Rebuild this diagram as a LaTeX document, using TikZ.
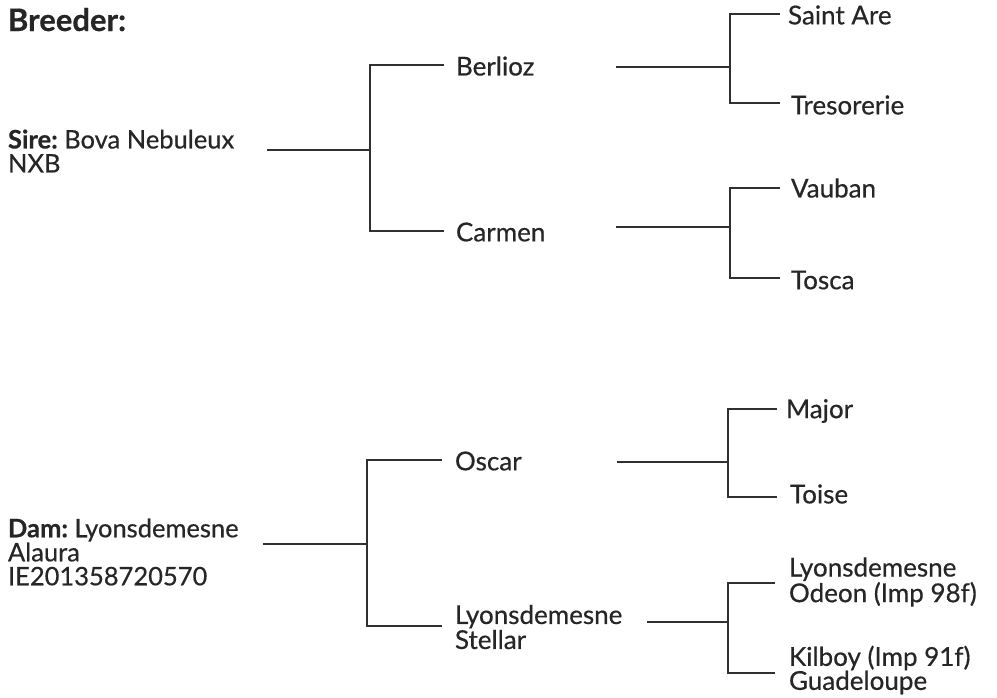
\documentclass[tikz,border=0pt]{standalone}
\usepackage{fontspec}
\setmainfont{Lato}[FakeBold=0.5]
\frenchspacing
\definecolor{ink}{HTML}{262626}
\definecolor{wire}{HTML}{303030}
\begin{document}
\begin{tikzpicture}[x=1pt,y=-1pt,
  every node/.style={inner sep=0pt,outer sep=0pt,text=ink},
  name1/.style={anchor=west,align=left,font=\fontsize{25.5}{24}\selectfont},
  name2/.style={anchor=west,align=left,font=\fontsize{26}{25}\selectfont},
  name3/.style={anchor=west,align=left,font=\fontsize{26}{24}\selectfont},
  thick2/.style={draw=wire,line width=2pt},
  thin3/.style={draw=wire,line width=1.1pt}]
\useasboundingbox (0,0) rectangle (997,697);
\node[anchor=base west,font=\fontsize{31}{32}\bfseries\selectfont] (breeder) at (8,31) {Breeder:};
% ---------- Sire ----------
\node[name1] (sire) at (8,151) {\textbf{Sire:} Bova Nebuleux\\NXB};
\coordinate (s0) at (267,150);
\coordinate (sj) at (370,150);
\coordinate (sjt) at (370,65);
\coordinate (sjb) at (370,231);
\coordinate (sb1) at (444,65);
\coordinate (sb2) at (444,231);
\node[name2] (berlioz) at (456,66) {Berlioz};
\node[name2] (carmen) at (456,232) {Carmen};
\draw[thick2] (s0) -- (sj);
\draw[thick2] (sb1) -- (sjt) -- (sjb) -- (sb2);
% Berlioz parents
\coordinate (b0) at (616,67);
\coordinate (bj) at (730,67);
\coordinate (bjt) at (730,14);
\coordinate (bjb) at (730,103);
\coordinate (bb1) at (780,14);
\coordinate (bb2) at (780,103);
\node[name3] (saint) at (788,15) {Saint Are};
\node[name3] (treso) at (791,105) {Tresorerie};
\draw[thin3] (b0) -- (bj);
\draw[thin3] (bb1) -- (bjt) -- (bjb) -- (bb2);
% Carmen parents
\coordinate (c0) at (616,227);
\coordinate (cj) at (730,227);
\coordinate (cjt) at (730,188);
\coordinate (cjb) at (730,278);
\coordinate (cb1) at (780,188);
\coordinate (cb2) at (780,278);
\node[name3] (vauban) at (791,188) {Vauban};
\node[name3] (tosca) at (791,280) {Tosca};
\draw[thin3] (c0) -- (cj);
\draw[thin3] (cb1) -- (cjt) -- (cjb) -- (cb2);
% ---------- Dam ----------
\node[name1] (dam) at (8,552) {\textbf{Dam:} Lyonsdemesne\\Alaura\\IE201358720570};
\coordinate (d0) at (263,544);
\coordinate (dj) at (367,544);
\coordinate (djt) at (367,460);
\coordinate (djb) at (367,626);
\coordinate (db1) at (442,460);
\coordinate (db2) at (442,626);
\node[name2] (oscar) at (455,461) {Oscar};
\node[name2] (stellar) at (455,627) {Lyonsdemesne\\Stellar};
\draw[thick2] (d0) -- (dj);
\draw[thick2] (db1) -- (djt) -- (djb) -- (db2);
% Oscar parents
\coordinate (o0) at (617,462);
\coordinate (oj) at (728,462);
\coordinate (ojt) at (728,409);
\coordinate (ojb) at (728,497);
\coordinate (ob1) at (777,409);
\coordinate (ob2) at (777,497);
\node[name3] (major) at (786,411) {Major};
\node[name3] (toise) at (790,494) {Toise};
\draw[thin3] (o0) -- (oj);
\draw[thin3] (ob1) -- (ojt) -- (ojb) -- (ob2);
% Stellar parents
\coordinate (l0) at (647,622);
\coordinate (lj) at (728,622);
\coordinate (ljt) at (728,583);
\coordinate (ljb) at (728,673);
\coordinate (lb1) at (775,583);
\coordinate (lb2) at (775,673);
\node[name3] (odeon) at (789,582) {Lyonsdemesne\\Odeon (Imp 98f)};
\node[name3] (kilboy) at (789,670) {Kilboy (Imp 91f)\\Guadeloupe};
\draw[thin3] (l0) -- (lj);
\draw[thin3] (lb1) -- (ljt) -- (ljb) -- (lb2);
\end{tikzpicture}
\end{document}
